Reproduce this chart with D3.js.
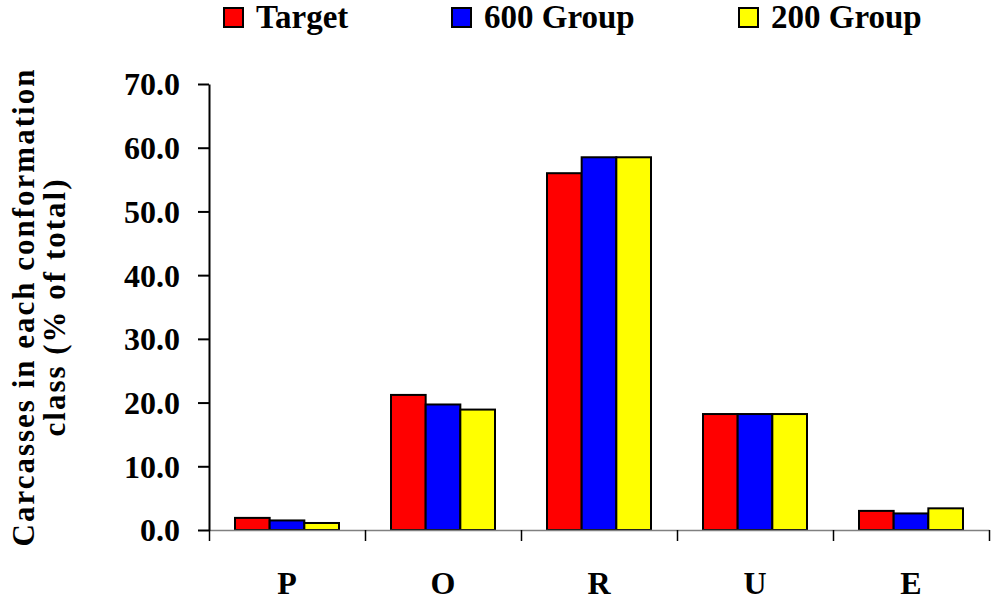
<!DOCTYPE html>
<html>
<head>
<meta charset="utf-8">
<script src="https://cdn.jsdelivr.net/npm/d3@7"></script>
<style>
  html, body { margin: 0; padding: 0; background: #fff; }
  svg { display: block; }
</style>
</head>
<body>
<svg id="chart" width="997" height="602"></svg>
<script>
// Conformation classes and the share of carcasses (%) in each
const categories = ["P", "O", "R", "U", "E"];
const seriesNames = ["Target", "600 Group", "200 Group"];
const seriesColors = ["#ff0000", "#0000ff", "#ffff00"];
const targetValues = [1.9, 21.2, 56.0, 18.2, 3.0];
const group600Values = [1.5, 19.7, 58.5, 18.2, 2.6];
const group200Values = [1.1, 18.9, 58.5, 18.2, 3.4];
const yTicks = [0, 10, 20, 30, 40, 50, 60, 70];
const yTitleLines = ["Carcasses in each conformation", "class (% of total)"];

const seriesValues = [targetValues, group600Values, group200Values];
const FONT = '"Liberation Serif", "Times New Roman", serif';

function serif(sel, size) {
  return sel.style("font-family", FONT)
    .style("font-weight", "bold")
    .style("font-size", size + "px")
    .attr("fill", "#000");
}

const svg = d3.select("#chart");
const plot = { left: 209, right: 989, top: 84, bottom: 530 };

const y = d3.scaleLinear().domain([0, 70]).range([plot.bottom, plot.top]);
const x0 = d3.scaleBand().domain(categories).range([plot.left, plot.right]).paddingInner(0).paddingOuter(0);
const groupWidth = x0.bandwidth() * 2 / 3;
const x1 = d3.scaleBand().domain(seriesNames).range([0, groupWidth]).padding(0);

// Bars
const groups = svg.append("g")
  .selectAll("g")
  .data(categories)
  .join("g")
  .attr("transform", c => `translate(${x0(c) + (x0.bandwidth() - groupWidth) / 2},0)`);

groups.selectAll("rect")
  .data((c, i) => seriesNames.map((s, k) => ({ s, k, v: seriesValues[k][i] })))
  .join("rect")
  .attr("x", d => x1(d.s))
  .attr("y", d => y(d.v))
  .attr("width", x1.bandwidth())
  .attr("height", d => y(0) - y(d.v))
  .attr("fill", d => seriesColors[d.k])
  .attr("stroke", "#000")
  .attr("stroke-width", 2);

// X axis: gray baseline with ticks between categories
const xEdges = d3.scaleLinear().domain([0, categories.length]).range([plot.left, plot.right]);
const xAxis = svg.append("g")
  .attr("transform", `translate(0,${y(0)})`)
  .call(d3.axisBottom(xEdges).tickValues(d3.range(categories.length + 1))
    .tickSize(11).tickSizeOuter(0).tickFormat(""));
xAxis.select(".domain").attr("stroke", "#808080").attr("stroke-width", 1.5);
xAxis.selectAll(".tick line").attr("stroke", "#000").attr("stroke-width", 1.5);

// Category labels
const xLabels = svg.append("g")
  .attr("transform", `translate(0,${y(0)})`)
  .call(d3.axisBottom(x0).tickSize(0).tickPadding(0));
xLabels.select(".domain").remove();
serif(xLabels.selectAll(".tick text").attr("y", 64).attr("dy", 0), 32);

// Y axis
const yAxis = svg.append("g")
  .attr("transform", `translate(${plot.left},0)`)
  .call(d3.axisLeft(y).tickValues(yTicks).tickFormat(d3.format(".1f"))
    .tickSize(11).tickSizeOuter(0).tickPadding(18));
yAxis.select(".domain").attr("stroke", "#000").attr("stroke-width", 2);
yAxis.selectAll(".tick line").attr("stroke", "#000").attr("stroke-width", 2);
serif(yAxis.selectAll(".tick text").attr("dy", "0.34em"), 32);

// Y axis title (two lines, rotated)
const yMid = (plot.top + plot.bottom) / 2;
serif(svg.append("g")
  .selectAll("text")
  .data(yTitleLines)
  .join("text")
  .attr("transform", (d, i) => `translate(${34 + i * 31},${yMid}) rotate(-90)`)
  .attr("text-anchor", "middle")
  .style("letter-spacing", "2px")
  .text(d => d), 31);

// Legend
const legendX = [224, 452, 739];
const legend = svg.append("g")
  .selectAll("g")
  .data(seriesNames)
  .join("g")
  .attr("transform", (d, i) => `translate(${legendX[i]},8)`);
legend.append("rect")
  .attr("width", 19).attr("height", 19)
  .attr("fill", (d, i) => seriesColors[i])
  .attr("stroke", "#000").attr("stroke-width", 2);
serif(legend.append("text")
  .attr("x", 32).attr("y", 20)
  .text(d => d), 33);
</script>
</body>
</html>
